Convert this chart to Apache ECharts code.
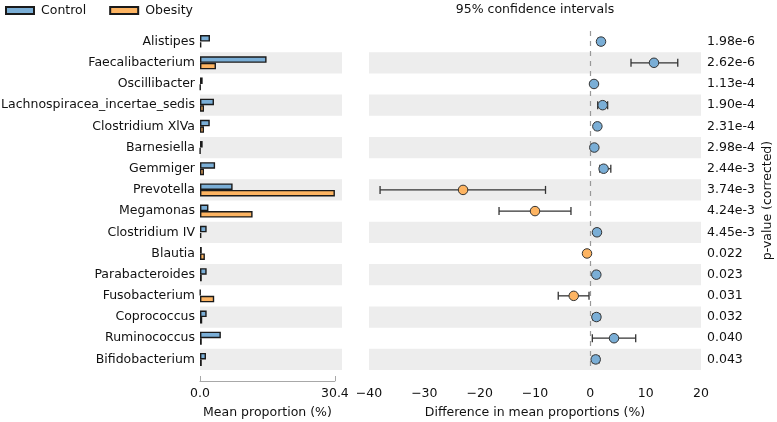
<!DOCTYPE html>
<html><head><meta charset="utf-8">
<script src="https://cdn.jsdelivr.net/npm/echarts@6/dist/echarts.min.js"></script>
<style>html,body{margin:0;padding:0;background:#fff}#c{width:777px;height:422px}</style>
</head><body><div id="c"></div>
<script>
const taxa = ['Alistipes','Faecalibacterium','Oscillibacter','Lachnospiracea_incertae_sedis','Clostridium XlVa','Barnesiella','Gemmiger','Prevotella','Megamonas','Clostridium IV','Blautia','Parabacteroides','Fusobacterium','Coprococcus','Ruminococcus','Bifidobacterium'];
const control = [2.25, 15.0, 0.6, 3.15, 2.2, 0.6, 3.4, 7.35, 1.9, 1.5, 0.4, 1.5, 0.1, 1.5, 4.7, 1.35];
const obesity = [0.3, 3.6, 0.1, 0.9, 0.9, 0.05, 0.9, 30.4, 11.85, 0.3, 1.1, 0.4, 3.2, 0.5, 0.4, 0.4];
const diff = [1.93, 11.5, 0.66, 2.23, 1.27, 0.72, 2.4, -23.0, -10.0, 1.2, -0.6, 1.08, -3.0, 1.1, 4.28, 0.97];
const ciLow = [1.4, 7.35, 0.3, 1.33, 0.8, 0.4, 1.7, -38.0, -16.5, 0.7, -0.9, 0.6, -5.8, 0.5, 0.36, 0.4];
const ciHigh = [2.4, 15.8, 1.0, 3.13, 1.7, 1.0, 3.7, -8.1, -3.5, 1.7, -0.3, 1.6, -0.24, 1.7, 8.2, 1.6];
const pValues = ['1.98e-6','2.62e-6','1.13e-4','1.90e-4','2.31e-4','2.98e-4','2.44e-3','3.74e-3','4.24e-3','4.45e-3','0.022','0.023','0.031','0.032','0.040','0.043'];
const meanTicks = [0, 30.4];

const BLUE = '#7aaed6', ORANGE = '#fdb462', BAND = '#ededed', EDGE = '#1a1a1a', AX = '#a8a8a8';
const FONT = 'DejaVu Sans';
const FS = 12.5;
const leftMax = 32;
const topY = 31, plotH = 339, leftX = 200, leftW = 142, rightX = 369, rightW = 332;

const bandLeft = taxa.map((t,i)=> i%2===1 ? leftMax : '-');
const bandNeg = taxa.map((t,i)=> i%2===1 ? -40 : '-');
const bandPos = taxa.map((t,i)=> i%2===1 ? 20 : '-');

const chart = echarts.init(document.getElementById('c'), null, {renderer:'canvas'});
const txt = {fontFamily: FONT, fontSize: FS, color: '#111'};
const gridBase = {containLabel: false, outerBoundsMode: 'none'};

chart.setOption({
  animation: false,
  textStyle: {fontFamily: FONT},
  legend: {
    data: ['Control','Obesity'], left: 5, top: 4, padding: 0,
    icon: 'rect', itemWidth: 28, itemHeight: 7, itemGap: 23,
    textStyle: {fontFamily: FONT, fontSize: FS, color: '#111', padding: [0,0,0,2]}
  },
  grid: [
    Object.assign({left: leftX, top: topY, width: leftW, height: plotH}, gridBase),
    Object.assign({left: rightX, top: topY, width: rightW, height: plotH}, gridBase),
    Object.assign({left: leftX, top: topY + plotH, width: leftW * meanTicks[1] / leftMax, height: 11}, gridBase)
  ],
  xAxis: [
    {gridIndex: 0, type: 'value', min: 0, max: leftMax, show: false},
    {gridIndex: 1, type: 'value', min: -40, max: 20, interval: 10, position: 'bottom', offset: 11,
     axisLine: {lineStyle: {color: AX, width: 1}},
     axisTick: {inside: true, length: 5, lineStyle: {color: AX}},
     axisLabel: Object.assign({margin: 6, formatter: v => String(v).replace('-', '\u2212')}, txt),
     splitLine: {show: false},
     name: 'Difference in mean proportions (%)', nameLocation: 'middle', nameGap: 25,
     nameTextStyle: txt},
    {gridIndex: 1, type: 'value', min: -40, max: 20, position: 'top',
     axisLine: {show: false}, axisTick: {show: false}, axisLabel: {show: false}, splitLine: {show: false},
     name: '95% confidence intervals', nameLocation: 'middle', nameGap: 15, nameTextStyle: txt},
    {gridIndex: 2, type: 'value', min: meanTicks[0], max: meanTicks[1], interval: meanTicks[1], position: 'bottom',
     axisLine: {lineStyle: {color: AX, width: 1}},
     axisTick: {inside: true, length: 5, lineStyle: {color: AX}},
     axisLabel: Object.assign({margin: 6, formatter: v => v.toFixed(1)}, txt),
     splitLine: {show: false},
     name: 'Mean proportion (%)', nameLocation: 'middle', nameGap: 25, nameTextStyle: txt}
  ],
  yAxis: [
    {gridIndex: 0, type: 'category', data: taxa, inverse: true, position: 'left',
     axisLine: {show: false}, axisTick: {show: false},
     axisLabel: Object.assign({margin: 5, interval: 0}, txt)},
    {gridIndex: 0, type: 'category', data: taxa, inverse: true, position: 'right', show: false},
    {gridIndex: 1, type: 'category', data: taxa, inverse: true, position: 'left', show: false},
    {gridIndex: 1, type: 'category', data: pValues, inverse: true, position: 'right',
     axisLine: {show: false}, axisTick: {show: false},
     axisLabel: Object.assign({margin: 6, interval: 0}, txt),
     name: 'p-value (corrected)', nameLocation: 'middle', nameRotate: 90, nameGap: 60, nameTextStyle: txt},
    {gridIndex: 2, type: 'value', show: false}
  ],
  series: [
    {type: 'bar', name: 'band', xAxisIndex: 0, yAxisIndex: 1, data: bandLeft, barWidth: '100%',
     itemStyle: {color: BAND}, silent: true, z: 0},
    {type: 'bar', name: 'Control', xAxisIndex: 0, yAxisIndex: 0, data: control, barWidth: 6.5, barGap: '0%',
     itemStyle: {color: BLUE, borderColor: EDGE, borderWidth: 1.4}, z: 3},
    {type: 'bar', name: 'Obesity', xAxisIndex: 0, yAxisIndex: 0, data: obesity, barWidth: 6.5, barGap: '0%',
     itemStyle: {color: ORANGE, borderColor: EDGE, borderWidth: 1.4}, z: 3},
    {type: 'bar', name: 'bandN', xAxisIndex: 1, yAxisIndex: 2, data: bandNeg, barWidth: '100%', barGap: '-100%',
     itemStyle: {color: BAND}, silent: true, z: 0},
    {type: 'bar', name: 'bandP', xAxisIndex: 1, yAxisIndex: 2, data: bandPos, barWidth: '100%', barGap: '-100%',
     itemStyle: {color: BAND}, silent: true, z: 0},
    {type: 'custom', name: 'ci', xAxisIndex: 1, yAxisIndex: 2, z: 4,
     data: taxa.map((t,i)=>[ciLow[i], ciHigh[i], i]),
     encode: {x: [0,1], y: 2},
     renderItem: function(params, api){
       const y = api.value(2);
       const a = api.coord([api.value(0), y]);
       const b = api.coord([api.value(1), y]);
       const h = 4;
       const st = {stroke: '#333', lineWidth: 1.3};
       return {type: 'group', children: [
         {type: 'line', shape: {x1: a[0], y1: a[1], x2: b[0], y2: b[1]}, style: st},
         {type: 'line', shape: {x1: a[0], y1: a[1]-h, x2: a[0], y2: a[1]+h}, style: st},
         {type: 'line', shape: {x1: b[0], y1: b[1]-h, x2: b[0], y2: b[1]+h}, style: st}
       ]};
     }},
    {type: 'scatter', name: 'diff', xAxisIndex: 1, yAxisIndex: 2, z: 5,
     data: taxa.map((t,i)=>[diff[i], i]),
     symbol: 'circle', symbolSize: 9.5,
     itemStyle: {color: p => p.value[0] >= 0 ? BLUE : ORANGE, borderColor: '#333', borderWidth: 1, opacity: 1},
     markLine: {silent: true, symbol: 'none', label: {show: false},
       lineStyle: {color: '#999', type: [5,5], width: 1.2},
       data: [{xAxis: 0}], z: 2}
    }
  ]
});
</script></body></html>
